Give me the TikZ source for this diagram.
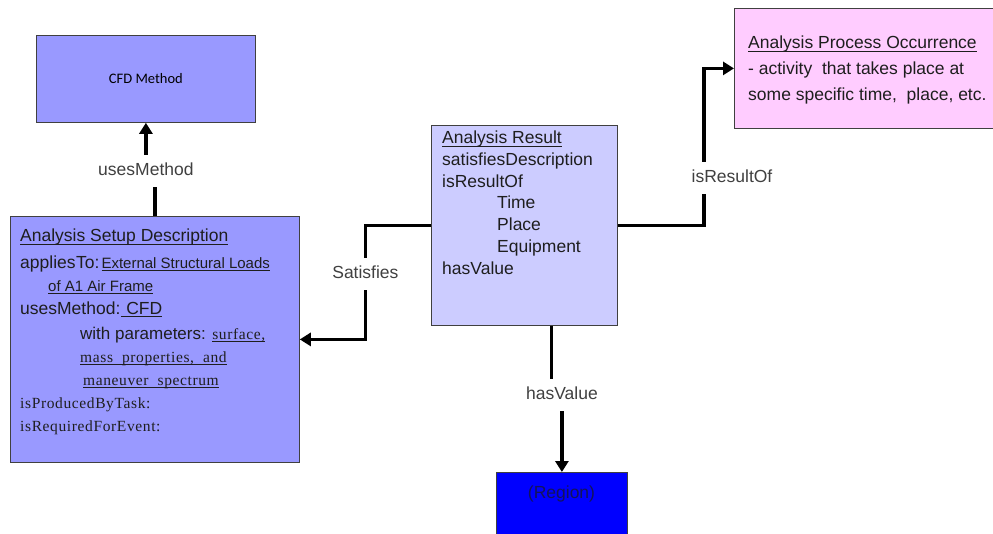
\documentclass[tikz,border=0pt]{standalone}
\usepackage{fontspec}
\setmainfont{Liberation Sans}
\newfontfamily\timesfont{Liberation Serif}[LetterSpace=4.0]
\newfontfamily\calibrifont{Carlito}
\usetikzlibrary{arrows.meta,calc}
\definecolor{method}{RGB}{153,153,255}
\definecolor{result}{RGB}{204,204,255}
\definecolor{occur}{RGB}{255,204,255}
\definecolor{regionblue}{RGB}{0,0,255}
\definecolor{edge}{RGB}{64,64,64}
\definecolor{ink}{RGB}{30,30,30}
\definecolor{regionink}{RGB}{20,20,90}
\newcommand\bigfont{\fontsize{17.5}{23}\selectfont}
\newcommand\midfont{\fontsize{15}{18}\selectfont}
\newcommand\serfont{\timesfont\fontsize{15.5}{18}\selectfont}
% underline sitting just under the baseline
\newsavebox\ulbox
\newcommand\uln[1]{\sbox\ulbox{#1}\rlap{\rule[-2.6pt]{\wd\ulbox}{0.9pt}}\usebox\ulbox}
\begin{document}
\begin{tikzpicture}[x=1pt,y=-1pt,font=\bigfont,
		box/.style={draw=edge,line width=0.8pt,anchor=north west,inner sep=0pt},
		txt/.style={anchor=north west,align=left,inner sep=0pt,text=ink},
		link/.style={line width=3.8pt,-{Triangle[width=13pt,length=11pt]}},
		tag/.style={fill=white,text=ink!85,inner xsep=2pt,inner ysep=8pt,text height=12.5pt,text depth=3.5pt}]
	\useasboundingbox (0,0) rectangle (993,533);
	\clip (0,0) rectangle (993,533);
	% boxes
	\node[box,fill=method,minimum width=219pt,minimum height=87pt,font=\calibrifont\fontsize{14.5}{16}\selectfont] (cfd) at (36,35) {CFD Method};
	\node[box,fill=method,minimum width=289pt,minimum height=246pt] (setup) at (10,216) {};
	\node[box,fill=result,minimum width=186pt,minimum height=200pt] (result) at (431,125) {};
	\node[box,fill=occur,minimum width=270pt,minimum height=120pt] (occur) at (734,8) {};
	\node[box,fill=regionblue,minimum width=131pt,minimum height=80pt] (region) at (496,472) {};
	% box texts
	\node[txt] (setuptext) at (20,229) {\uln{Analysis Setup Description}\\[3.5pt]
		applies\kern.5pt To:\kern2pt{\midfont\uln{External Structural Loads}}\\
		\hspace*{28pt}{\midfont\uln{of A1 Air Frame}}\\
		usesMethod:\kern1pt\uln{ CFD}\\[2pt]
		\hspace*{60pt}{\fontsize{17}{18}\selectfont with parameters:} {\serfont\uln{surface,}}\\
		\hspace*{60pt}{\serfont\uln{mass~ properties,~ and}}\\
		\hspace*{63pt}{\serfont\uln{maneuver~ spectrum}}\\
		{\serfont isProducedByTask:}\\
		{\serfont isRequiredForEvent:}};
	\node[txt,font=\fontsize{17.5}{21.7}\selectfont] (resulttext) at (442,131) {\uln{Analysis Result}\\
		satisfiesDescription\\
		isResultOf\\
		\hspace*{55pt}Time\\
		\hspace*{55pt}Place\\
		\hspace*{55pt}Equipment\\
		hasValue};
	\node[txt,font=\fontsize{17.5}{26}\selectfont] (occurtext) at (748,36) {\uln{Analysis Process Occurrence}\\
		- activity~ that takes place at\\
		some specific time,~ place, etc.};
	\node[anchor=base,text=regionink] (regionname) at (561.5,498) {(Region)};
	% links
	\coordinate (satbend) at ($(setup.east)!.5!(result.west)$);
	\draw[link] (setup.north) |- (cfd.south |- 0,171) -- (cfd.south);
	\draw[link] (result.west) -| (satbend |- setup.east) -- (setup.east);
	\draw[link] (result.east) -- ++(86,0) |- (occur.west);
	\draw[link] ([xshift=27pt]result.south) |- (region.north |- 0,395) -- (region.north);
	\node[tag] (usesm) at (cfd.south |- 0,171) {usesMethod};
	\node[tag] (satisfies) at (satbend |- 0,274) {Satisfies};
	\node[tag] (resultof) at (732,178) {isResultOf};
	\node[tag] (hasvalue) at (region.north |- 0,395) {hasValue};
\end{tikzpicture}
\end{document}
